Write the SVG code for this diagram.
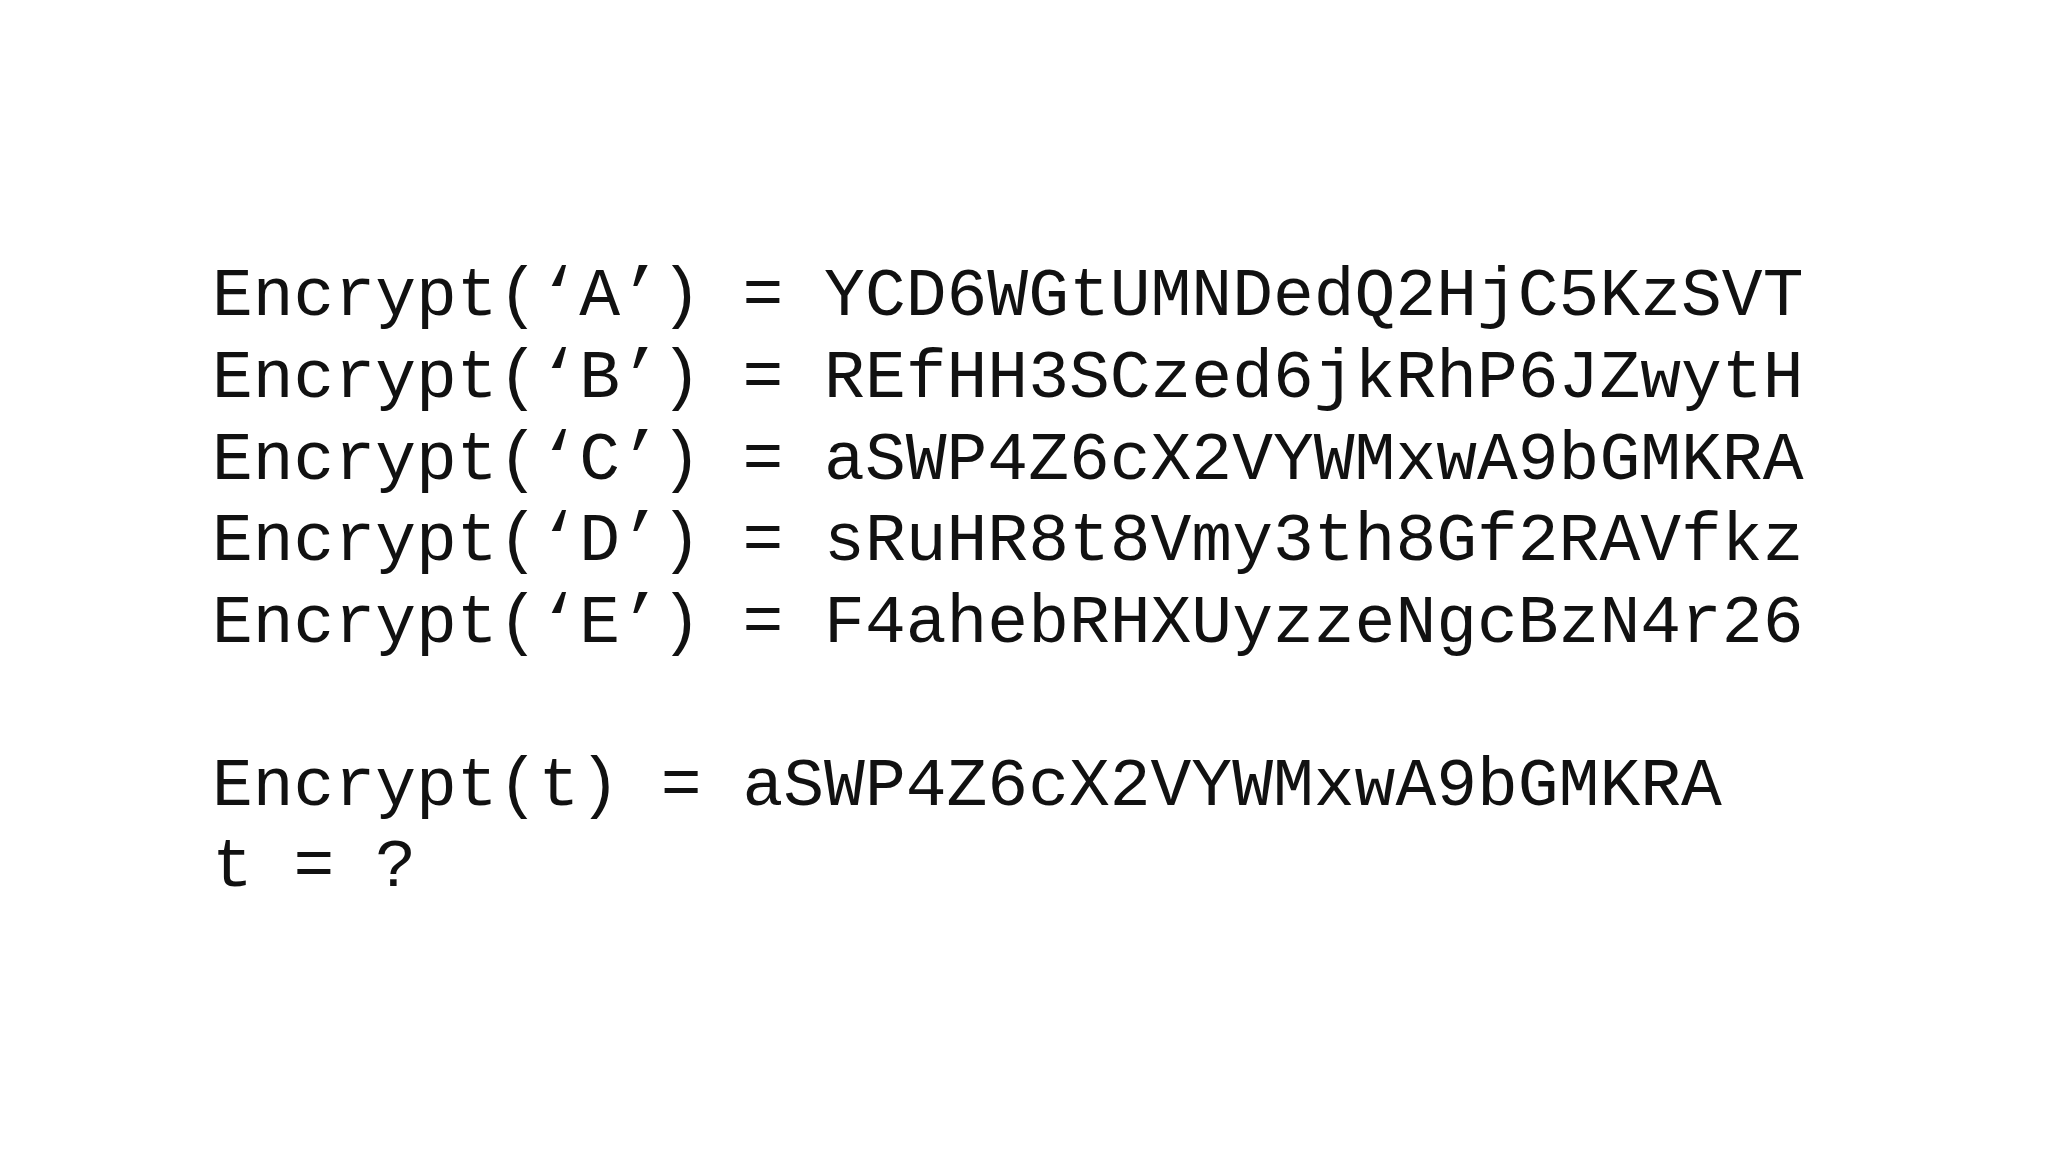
<svg xmlns="http://www.w3.org/2000/svg" width="2048" height="1152" viewBox="0 0 2048 1152">
<style>text{font-family:"Liberation Mono","Courier New",monospace;font-size:68px;fill:#111}</style>
<rect width="2048" height="1152" fill="#fff"/>
<g id="lines">
<text x="212" y="315">Encrypt(‘A’) = YCD6WGtUMNDedQ2HjC5KzSVT</text>
<text x="212" y="397">Encrypt(‘B’) = REfHH3SCzed6jkRhP6JZwytH</text>
<text x="212" y="479">Encrypt(‘C’) = aSWP4Z6cX2VYWMxwA9bGMKRA</text>
<text x="212" y="560">Encrypt(‘D’) = sRuHR8t8Vmy3th8Gf2RAVfkz</text>
<text x="212" y="642">Encrypt(‘E’) = F4ahebRHXUyzzeNgcBzN4r26</text>
<text x="212" y="805">Encrypt(t) = aSWP4Z6cX2VYWMxwA9bGMKRA</text>
<text x="212" y="886">t = ?</text>
</g>
</svg>
